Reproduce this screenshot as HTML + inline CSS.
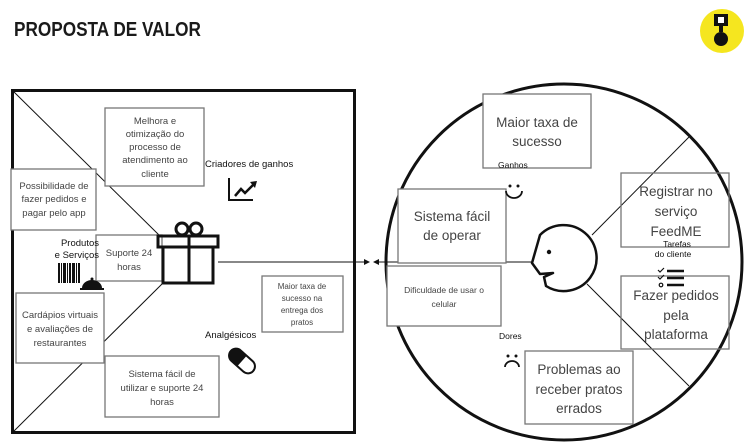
<!DOCTYPE html>
<html><head><meta charset="utf-8"><style>
body{margin:0;background:#fff;width:755px;height:447px;overflow:hidden}
svg{display:block}
text{font-family:"Liberation Sans",sans-serif;fill:#444}
.b{fill:#fff;stroke:#777;stroke-width:1.3}
</style></head><body>
<svg width="755" height="447" viewBox="0 0 755 447">
<text x="14" y="36" transform="translate(14 0) scale(0.86 1) translate(-14 0)" font-size="20" font-weight="bold" style="fill:#1a1a1a">PROPOSTA DE VALOR</text>
<circle cx="722" cy="31" r="22" fill="#f5e61f"/>
<rect x="714" y="14" width="14" height="12" fill="#111"/>
<rect x="718" y="17" width="6" height="6" fill="#fff"/>
<rect x="719" y="26" width="4" height="6" fill="#111"/>
<circle cx="721" cy="39" r="7" fill="#111"/>

<rect x="12.5" y="90.5" width="342" height="342" fill="none" stroke="#111" stroke-width="3"/>
<line x1="13" y1="91" x2="160" y2="236" stroke="#111" stroke-width="1"/>
<line x1="13" y1="432" x2="163" y2="283" stroke="#111" stroke-width="1"/>

<rect class="b" x="105" y="108" width="99" height="78"/>
<text font-size="9.5" text-anchor="middle"><tspan x="155" y="124">Melhora e</tspan><tspan x="155" y="137">otimização do</tspan><tspan x="155" y="150">processo de</tspan><tspan x="155" y="163">atendimento ao</tspan><tspan x="155" y="177">cliente</tspan></text>
<rect class="b" x="11" y="169" width="85" height="61"/>
<text font-size="9.5" text-anchor="middle"><tspan x="54" y="189">Possibilidade de</tspan><tspan x="54" y="202">fazer pedidos e</tspan><tspan x="54" y="216">pagar pelo app</tspan></text>
<rect class="b" x="96" y="235" width="66" height="46"/>
<text font-size="9.5" text-anchor="middle"><tspan x="129" y="256">Suporte 24</tspan><tspan x="129" y="270">horas</tspan></text>
<rect class="b" x="16" y="293" width="88" height="70"/>
<text font-size="9.5" text-anchor="middle"><tspan x="60" y="318">Cardápios virtuais</tspan><tspan x="60" y="332">e avaliações de</tspan><tspan x="60" y="346">restaurantes</tspan></text>
<rect class="b" x="105" y="356" width="114" height="61"/>
<text font-size="9.5" text-anchor="middle"><tspan x="162" y="377">Sistema fácil de</tspan><tspan x="162" y="391">utilizar e suporte 24</tspan><tspan x="162" y="405">horas</tspan></text>
<rect class="b" x="262" y="276" width="81" height="56"/>
<text font-size="8" text-anchor="middle"><tspan x="302" y="289">Maior taxa de</tspan><tspan x="302" y="301">sucesso na</tspan><tspan x="302" y="313">entrega dos</tspan><tspan x="302" y="325">pratos</tspan></text>

<text x="205" y="167" font-size="9.5" style="fill:#111">Criadores de ganhos</text>
<text x="205" y="338" font-size="9.5" style="fill:#111">Analgésicos</text>
<text font-size="9.5" text-anchor="end" style="fill:#111"><tspan x="99" y="246">Produtos</tspan><tspan x="99" y="258">e Serviços</tspan></text>
<g fill="#111"><rect x="58" y="263" width="2" height="20"/><rect x="61" y="263" width="1" height="20"/><rect x="63" y="263" width="3" height="20"/><rect x="67" y="263" width="1" height="20"/><rect x="69" y="263" width="2" height="20"/><rect x="72" y="263" width="3" height="20"/><rect x="76" y="263" width="1" height="20"/><rect x="78" y="263" width="2" height="20"/></g>
<path d="M82 288 a10 8 0 0 1 20 0z" fill="#111"/><rect x="80" y="288" width="24" height="2" fill="#111"/><circle cx="92" cy="279" r="1.5" fill="#111"/>
<path d="M229 178 V200 H253" fill="none" stroke="#111" stroke-width="2"/>
<path d="M235 196 L241 189 L245 193 L254 184" fill="none" stroke="#111" stroke-width="2.5"/>
<path d="M250 182 L257 181 L255 188z" fill="#111"/>
<g transform="rotate(42 242 361)"><rect x="227" y="354" width="30" height="14" rx="7" fill="#fff" stroke="#111" stroke-width="2"/><path d="M242 354 H234 a7 7 0 0 0 0 14 H242z" fill="#111"/></g>
<g fill="none" stroke="#111" stroke-width="3">
<rect x="158" y="236" width="60" height="11"/><rect x="163" y="247" width="50" height="36"/>
<line x1="189" y1="236" x2="189" y2="283"/>
<circle cx="182" cy="229" r="6"/><circle cx="196" cy="229" r="6"/>
</g>
<line x1="218" y1="262" x2="366" y2="262" stroke="#111" stroke-width="1"/>
<path d="M370 262 L364 259 L364 265z" fill="#111"/>
<line x1="378" y1="262" x2="532" y2="262" stroke="#111" stroke-width="1"/>
<path d="M373 262 L379 259 L379 265z" fill="#111"/>

<circle cx="564" cy="262" r="178" fill="none" stroke="#111" stroke-width="3"/>
<line x1="592" y1="235" x2="689" y2="137" stroke="#111" stroke-width="1"/>
<line x1="587" y1="284" x2="689" y2="386" stroke="#111" stroke-width="1"/>

<rect class="b" x="483" y="94" width="108" height="74"/>
<text font-size="13.5" text-anchor="middle"><tspan x="537" y="127">Maior taxa de</tspan><tspan x="537" y="146">sucesso</tspan></text>
<text x="498" y="168" font-size="8.5" style="fill:#111">Ganhos</text>
<rect class="b" x="398" y="189" width="108" height="74"/>
<text font-size="13.5" text-anchor="middle"><tspan x="452" y="221">Sistema fácil</tspan><tspan x="452" y="240">de operar</tspan></text>
<rect class="b" x="387" y="266" width="114" height="60"/>
<text font-size="8.5" text-anchor="middle"><tspan x="444" y="293">Dificuldade de usar o</tspan><tspan x="444" y="307">celular</tspan></text>
<text x="499" y="339" font-size="8.5" style="fill:#111">Dores</text>
<rect class="b" x="525" y="351" width="108" height="73"/>
<text font-size="13.5" text-anchor="middle"><tspan x="579" y="374">Problemas ao</tspan><tspan x="579" y="394">receber pratos</tspan><tspan x="579" y="413">errados</tspan></text>
<rect class="b" x="621" y="173" width="108" height="74" style="fill:none"/>
<text font-size="13.5" text-anchor="middle"><tspan x="676" y="196">Registrar no</tspan><tspan x="676" y="216">serviço</tspan><tspan x="676" y="236">FeedME</tspan></text>
<text font-size="8.5" text-anchor="middle" style="fill:#111"><tspan x="677" y="247">Tarefas</tspan><tspan x="673" y="257">do cliente</tspan></text>
<rect class="b" x="621" y="276" width="108" height="73" style="fill:none"/>
<text font-size="13.5" text-anchor="middle"><tspan x="676" y="300">Fazer pedidos</tspan><tspan x="676" y="320">pela</tspan><tspan x="676" y="339">plataforma</tspan></text>
<g stroke="#111" stroke-width="2.5"><line x1="667" y1="271" x2="684" y2="271"/><line x1="667" y1="278" x2="684" y2="278"/><line x1="667" y1="285" x2="684" y2="285"/></g>
<path d="M658 270 l2 2 l4 -4 M658 277 l2 2 l4 -4" stroke="#111" stroke-width="1.2" fill="none"/>
<circle cx="661" cy="285" r="1.8" fill="none" stroke="#111" stroke-width="1.2"/>
<circle cx="510" cy="186" r="1.5" fill="#111"/><circle cx="518" cy="186" r="1.5" fill="#111"/>
<path d="M506 191 a8 7 0 0 0 16 0" fill="none" stroke="#111" stroke-width="1.8"/>
<circle cx="508" cy="356" r="1.5" fill="#111"/><circle cx="516" cy="356" r="1.5" fill="#111"/>
<path d="M505 367 a7 6 0 0 1 14 0" fill="none" stroke="#111" stroke-width="1.8"/>
<path d="M540 235 A33 33 0 1 1 546 286 L544 277 L553 273 L540 274 L532 263 Z" fill="#fff" stroke="#111" stroke-width="2.5" stroke-linejoin="round"/>
<circle cx="549" cy="252" r="2.2" fill="#111"/>
</svg>
</body></html>
